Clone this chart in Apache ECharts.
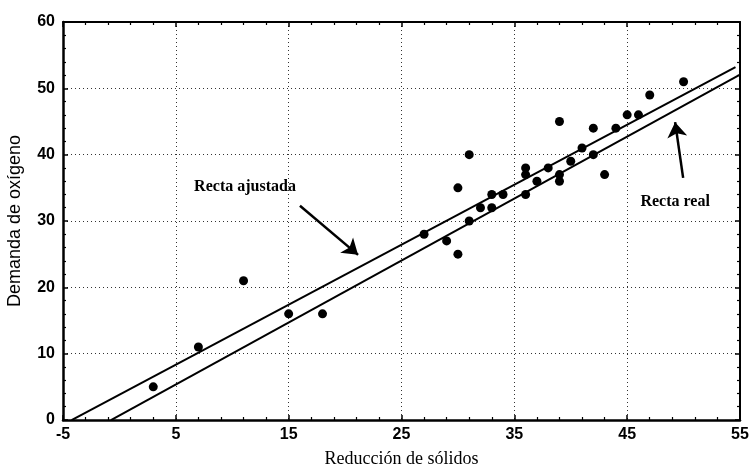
<!DOCTYPE html>
<html>
<head>
<meta charset="utf-8">
<script src="https://cdn.jsdelivr.net/npm/echarts@6/dist/echarts.min.js"></script>
<style>html,body{margin:0;padding:0;background:#fff}#c{width:750px;height:468px}</style>
</head>
<body>
<div id="c"></div>
<script>
// Data
const solidsX = [3,7,11,15,18,27,29,30,30,31,31,32,33,33,34,36,36,36,37,38,39,39,39,40,41,42,42,43,44,45,46,47,50];
const oxygenY = [5,11,21,16,16,28,27,25,35,30,40,32,34,32,34,37,38,34,36,38,37,36,45,39,41,40,44,37,44,46,46,49,51];
const xTicks = [-5,5,15,25,35,45,55];
const yTicks = [0,10,20,30,40,50,60];
// Lines: [intercept, slope, xStart, xEnd]
const fittedLine = [3.83, 0.904, -4.24, 54.6];
const realLine = [0.70, 0.934, -0.75, 55];
const labels = ['Recta ajustada', 'Recta real'];
const xName = 'Reducción de sólidos';
const yName = 'Demanda de oxígeno';

const pts = solidsX.map((x, i) => [x, oxygenY[i]]);
const lineData = p => [[p[2], p[0] + p[1] * p[2]], [p[3], p[0] + p[1] * p[3]]];

const chart = echarts.init(document.getElementById('c'), null, {renderer: 'canvas'});
const tickFont = {fontFamily: 'Liberation Sans', fontWeight: 'bold', fontSize: 16, color: '#000'};
const gridLine = {type: [1, 3], color: '#333', width: 1};
const baseX = {
  type: 'value', min: xTicks[0], max: xTicks[xTicks.length - 1], interval: 10,
  axisLine: {show: true, onZero: false, lineStyle: {color: '#000', width: 2.5}},
  axisTick: {show: true, inside: true, length: 5, lineStyle: {color: '#000', width: 1.5}},
  minorTick: {show: true, splitNumber: 5, length: 3, lineStyle: {color: '#000', width: 1.2}},
};
const baseY = {
  type: 'value', min: yTicks[0], max: yTicks[yTicks.length - 1], interval: 10,
  axisLine: {show: true, onZero: false, lineStyle: {color: '#000', width: 2.5}},
  axisTick: {show: true, inside: true, length: 5, lineStyle: {color: '#000', width: 1.5}},
  minorTick: {show: true, splitNumber: 5, length: 3, lineStyle: {color: '#000', width: 1.2}},
};

chart.setOption({
  animation: false,
  backgroundColor: '#fff',
  grid: {left: 63, right: 10, top: 22, bottom: 48, containLabel: false, outerBoundsMode: 'none'},
  xAxis: [
    Object.assign({}, baseX, {
      position: 'bottom',
      axisLabel: Object.assign({margin: 7}, tickFont),
      splitLine: {show: true, lineStyle: gridLine},
      name: xName, nameLocation: 'middle', nameGap: 30,
      nameTextStyle: {fontFamily: 'Liberation Serif', fontSize: 18, color: '#000'}
    }),
    Object.assign({}, baseX, {
      position: 'top', axisLabel: {show: false}, splitLine: {show: false},
      axisLine: {show: true, onZero: false, lineStyle: {color: '#000', width: 2}}
    })
  ],
  yAxis: [
    Object.assign({}, baseY, {
      position: 'left',
      axisLabel: Object.assign({margin: 8}, tickFont),
      splitLine: {show: true, lineStyle: gridLine},
      name: yName, nameLocation: 'middle', nameGap: 39,
      nameTextStyle: {fontFamily: 'Liberation Sans', fontSize: 18, color: '#000'}
    }),
    Object.assign({}, baseY, {
      position: 'right', axisLabel: {show: false}, splitLine: {show: false},
      axisLine: {show: true, onZero: false, lineStyle: {color: '#000', width: 2}}
    })
  ],
  series: [
    {
      type: 'line', data: lineData(fittedLine), symbol: 'none',
      lineStyle: {color: '#000', width: 2}, silent: true, z: 3
    },
    {
      type: 'line', data: lineData(realLine), symbol: 'none',
      lineStyle: {color: '#000', width: 2}, silent: true, z: 3
    },
    {
      type: 'scatter', data: pts, symbol: 'circle', symbolSize: 9,
      itemStyle: {color: '#000', opacity: 1}, z: 4
    },
    {
      type: 'lines', coordinateSystem: 'cartesian2d', polyline: false,
      symbol: ['none', 'arrow'], symbolSize: [0, 15],
      lineStyle: {color: '#000', width: 2.5, opacity: 1, curveness: 0},
      data: [
        {coords: [[16.0, 32.3], [21.15, 24.9]]},
        {coords: [[49.96, 36.5], [49.25, 44.9]]}
      ], z: 5
    },
    {
      type: 'scatter', symbolSize: 0, silent: true,
      itemStyle: {opacity: 1},
      label: {show: true, position: 'inside', formatter: p => p.name, opacity: 1,
        fontFamily: 'Liberation Serif', fontWeight: 'bold', fontSize: 16, color: '#000'},
      data: [
        {name: labels[0], value: [11.13, 35.1]},
        {name: labels[1], value: [49.25, 32.9]}
      ], z: 6
    }
  ]
});
</script>
</body>
</html>
